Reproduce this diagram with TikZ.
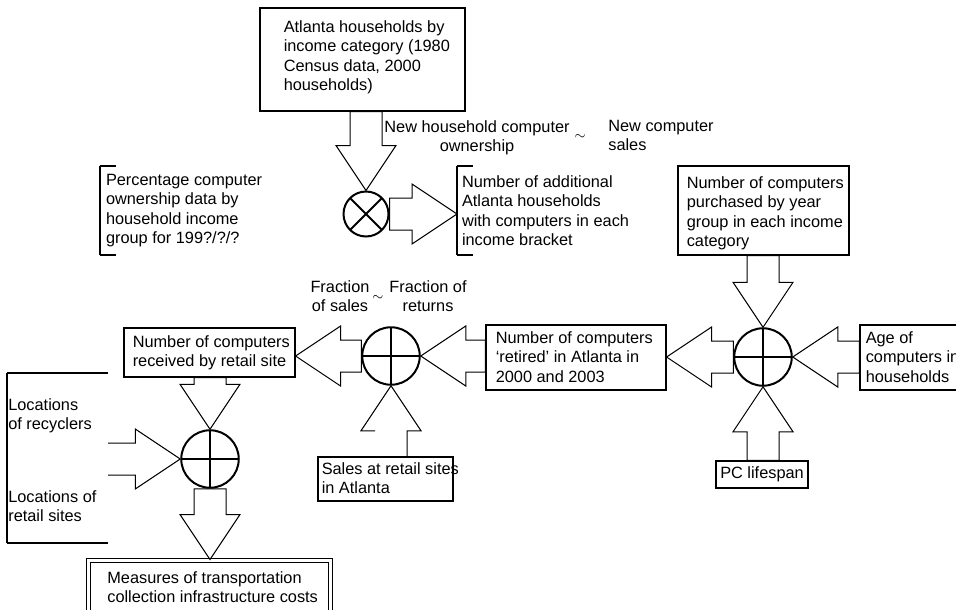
\documentclass[tikz,border=0pt]{standalone}
\usepackage{fontspec}
\setmainfont{Liberation Sans}
\usetikzlibrary{calc}

\newcommand{\shaftw}{9.6pt}
\newcommand{\headw}{18pt}
\newcommand{\headlen}{27pt}

% corner points of a block arrow from #1 to the tip #2
\newcommand{\fatcoords}[2]{%
  \coordinate (fa-s) at (#1);
  \coordinate (fa-t) at (#2);
  \coordinate (fa-h) at ($(fa-t)!\headlen!(fa-s)$);
  \coordinate (fa-ls) at ($(fa-s)!\shaftw!90:(fa-t)$);
  \coordinate (fa-lh) at ($(fa-h)!\shaftw!90:(fa-t)$);
  \coordinate (fa-lw) at ($(fa-h)!\headw!90:(fa-t)$);
  \coordinate (fa-rw) at ($(fa-h)!\headw!-90:(fa-t)$);
  \coordinate (fa-rh) at ($(fa-h)!\shaftw!-90:(fa-t)$);
  \coordinate (fa-rs) at ($(fa-s)!\shaftw!-90:(fa-t)$);
}
\newcommand{\fatarrow}[2]{%
  \fatcoords{#1}{#2}
  \draw[fatline] (fa-ls) -- (fa-lh) -- (fa-lw) -- (fa-t) -- (fa-rw) -- (fa-rh) -- (fa-rs) -- cycle;
}

\tikzset{
  txt/.style={inner sep=0pt, align=left},
  box/.style={draw, line width=0.7pt, inner sep=0pt},
  brk/.style={line width=0.7pt},
  fatline/.style={line width=0.6pt, line join=miter},
  tilde/.style={inner sep=0pt, font=\fontsize{8}{9}\selectfont},
  opcirc/.style={circle, draw, line width=1.2pt, inner sep=0pt, minimum size=34.5pt},
  pcirc/.style={opcirc, path picture={
    \draw[line width=1.2pt] (path picture bounding box.north) -- (path picture bounding box.south)
      (path picture bounding box.west) -- (path picture bounding box.east);}},
  xcirc/.style={opcirc, minimum size=27pt, path picture={
    \draw[line width=1.2pt] (path picture bounding box.north west) -- (path picture bounding box.south east)
      (path picture bounding box.north east) -- (path picture bounding box.south west);}},
  bracket/.style={inner xsep=3.6pt, inner ysep=0pt, outer sep=0pt, align=left, minimum height=53.4pt,
    append after command={
      ([xshift=#1]\tikzlastnode.north west) edge[brk] (\tikzlastnode.north west)
      (\tikzlastnode.north west) edge[brk] (\tikzlastnode.south west)
      (\tikzlastnode.south west) edge[brk] ([xshift=#1]\tikzlastnode.south west)}},
  bracket/.default=9.6pt
}

\begin{document}
\begin{tikzpicture}[x=0.6pt, y=-0.6pt, font=\fontsize{9.8}{11.6}\selectfont]
  \useasboundingbox (0,0) rectangle (956,609);
  \clip (0,0) rectangle (956,609);

  % top: households times ownership
  \node[box, minimum width=123pt, minimum height=61.8pt] (atl) at (362.5,59.5) {};
  \node[txt, anchor=north west] (atltxt) at ([shift={(24,13)}]atl.north west) {Atlanta households by\\income category (1980\\Census data, 2000\\households)};

  \node[xcirc] (xop) at (366,214) {};

  \node[txt, align=center, anchor=north] (nhco) at (477,120) {New household computer\\ownership};
  \node[tilde] (til1) at (580,137) {$\sim$};
  \node[txt, anchor=north west] (ncs) at (608,120) {New computer\\sales};

  \node[bracket, anchor=north west] (pct) at (100,166) {Percentage computer\\ownership data by\\household income\\group for 199?/?/?};
  \node[bracket, anchor=north west, inner xsep=3pt] (addl) at (457,166) {Number of additional\\Atlanta households\\with computers in each\\income bracket};

  % right: retired computers
  \node[box, minimum width=102.6pt, minimum height=53.4pt] (buy) at (763.5,210.5) {};
  \node[txt, anchor=north west] (buytxt) at ([shift={(9,11)}]buy.north west) {Number of computers\\purchased by year\\group in each income\\category};

  \node[pcirc] (pr) at (763,357) {};

  \node[box, minimum width=108pt, minimum height=39pt] (ret) at (576,357.5) {};
  \node[txt, anchor=north west] (rettxt) at ([shift={(10,7)}]ret.north west) {Number of computers\\`retired' in Atlanta in\\2000 and 2003};

  \node[box, minimum width=72pt, minimum height=39pt] (age) at (920,357.5) {};
  \node[txt, anchor=north west] (agetxt) at ([shift={(6,7)}]age.north west) {Age of\\computers in\\households};

  \node[box, minimum width=55.2pt, minimum height=16.2pt] (pc) at (762,474.5) {PC lifespan};

  % middle: returns to retail sites
  \node[pcirc] (pm) at (391,356) {};
  \node[txt, align=center, anchor=north] (fsal) at (340,280) {Fraction\\of sales};
  \node[tilde] (til2) at (378,298) {$\sim$};
  \node[txt, align=center, anchor=north] (fret) at (428,280) {Fraction of\\returns};

  \node[box, minimum width=102.6pt, minimum height=29.4pt] (rcv) at (209.5,352.5) {};
  \node[txt, anchor=north west] (rcvtxt) at ([shift={(9,8)}]rcv.north west) {Number of computers\\received by retail site};

  \node[box, minimum width=81pt, minimum height=26.4pt] (sales) at (385.5,479) {};
  \node[txt, anchor=north west] (salestxt) at ([shift={(4,6)}]sales.north west) {Sales at retail sites\\in Atlanta};

  % bottom left: collection costs
  \node[pcirc] (pbl) at (210,459) {};
  \node[bracket=60.6pt, anchor=north west, inner xsep=0pt, minimum width=60.6pt, minimum height=102pt] (locb) at (7,373) {};
  \node[txt, anchor=north west] (locrec) at (8,398) {Locations\\of recyclers};
  \node[txt, anchor=north west] (locret) at (8,490) {Locations of\\retail sites};

  \node[box, double, double distance=1.8pt, line width=0.6pt, minimum width=145.2pt, minimum height=39pt] (meas) at (209.5,592.5) {};
  \node[txt, anchor=north west] (meastxt) at (107,571) {Measures of transportation\\collection infrastructure costs};

  % block arrows
  \fatarrow{xop.north |- atl.south}{xop.north}
  \fatarrow{xop.east}{xop.east -| addl.west}
  \fatarrow{pr.north |- buy.south}{pr.north}
  \fatarrow{pr.west}{pr.west -| ret.east}
  \fatarrow{pr.east -| age.west}{pr.east}
  \fatarrow{pr.south |- pc.north}{pr.south}
  \fatarrow{pm.east -| ret.west}{pm.east}
  \fatarrow{pm.west}{pm.west -| rcv.east}
  \fatcoords{pm.south |- sales.north}{pm.south}
  \draw[fatline] (fa-lh) -- (fa-lw) -- (fa-t) -- (fa-rw) -- (fa-rh) -- (fa-rs);
  \fatarrow{pbl.north |- rcv.south}{pbl.north}
  \coordinate (locend) at (locb.east |- pbl.west);
  \fatcoords{locend}{pbl.west}
  \draw[fatline] (fa-ls) -- (fa-lh) -- (fa-lw) -- (fa-t) -- (fa-rw) -- (fa-rh) -- (fa-rs);
  \fatarrow{pbl.south}{pbl.south |- meas.north}
\end{tikzpicture}
\end{document}
